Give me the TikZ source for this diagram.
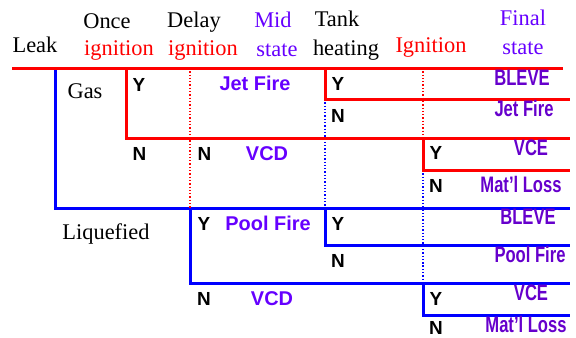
\documentclass[tikz,border=0pt]{standalone}
\usepackage{fontspec}
\newfontfamily\answerfont{Liberation Sans}
\newfontfamily\headfont{Liberation Serif}
\usetikzlibrary{positioning}
\definecolor{TreeRed}{RGB}{255,0,0}
\definecolor{TreeBlue}{RGB}{0,0,255}
\definecolor{MidViolet}{RGB}{102,0,255}
\definecolor{FinalViolet}{RGB}{102,0,204}

\begin{document}
\begin{tikzpicture}[x=1bp, y=-1bp,
    head/.style={anchor=base, inner sep=0pt, font=\headfont\fontsize{22.5}{24}\selectfont},
    answer/.style={anchor=base, inner sep=0pt, font=\answerfont\bfseries\fontsize{19}{20}\selectfont},
    midout/.style={answer, text=MidViolet, font=\answerfont\bfseries\fontsize{20}{22}\selectfont},
    finalout/.style={anchor=base, inner sep=0pt, xscale=0.74, text=FinalViolet, font=\answerfont\bfseries\fontsize{22.5}{24}\selectfont},
    branch/.style={line width=3bp},
    guide/.style={line width=1.3bp, dotted}]
    \useasboundingbox (0,0) rectangle (576,337);

    \foreach \name/\x/\y in {headL/12/68, headR/563/68, leak/55/68, gasfork/126/68, gasN/570/138,
        tankG/325/68, tankGY/570/99, ignG/423/138, ignGY/570/170, liqY/570/208,
        delayL/190/208, delayLN/570/283, tankL/325/208, tankLY/570/245, ignL/423/283, ignLY/570/315} {
      \coordinate (\name) at (\x,\y);
    }

    \draw[branch, TreeBlue] (leak) |- (liqY);
    \draw[branch, TreeBlue] (delayL) |- (delayLN);
    \draw[branch, TreeBlue] (tankL) |- (tankLY);
    \draw[branch, TreeBlue] (ignL) |- (ignLY);
    \draw[guide, TreeBlue] (tankG |- tankGY) -- (tankL);
    \draw[guide, TreeBlue] (ignG |- ignGY) -- (ignL);
    \draw[guide, TreeRed] (delayL |- headL) -- (delayL);
    \draw[guide, TreeRed] (ignG |- headL) -- (ignG);
    \draw[branch, TreeRed] (headL) -- (headR);
    \draw[branch, TreeRed] (gasfork) |- (gasN);
    \draw[branch, TreeRed] (tankG) |- (tankGY);
    \draw[branch, TreeRed] (ignG) |- (ignGY);

    \foreach \name/\x/\y/\txt/\col in {leaktxt/35/52/Leak/black, once/107/28/Once/black,
        onceign/119/55/ignition/TreeRed, delay/194/27/Delay/black, delayign/203/55/ignition/TreeRed,
        mid/273/27/Mid/MidViolet, midst/277/56/state/MidViolet, tank/337/26/Tank/black,
        heat/346/55/heating/black, ign/431/52/Ignition/TreeRed, final/523/25/Final/MidViolet,
        finalst/523/54/state/MidViolet, gas/85/98/Gas/black, liq/106/239/Liquefied/black} {
      \node[head, text=\col] (\name) at (\x,\y) {\txt};
    }

    \foreach \name/\x/\y/\txt in {gY/139/91/Y, gN/139.5/160/N, dgN/204.5/160/N, tgY/338/90/Y,
        tgN/338/122/N, igY/436/159/Y, igN/436/192/N, dlY/204/230/Y, dlN/204/305/N,
        tlY/338/230/Y, tlN/338/267/N, ilY/436/305/Y, ilN/436/334/N} {
      \node[answer] (\name) at (\x,\y) {\txt};
    }

    \foreach \name/\x/\y/\txt in {jetM/255/90/Jet Fire, vcdG/267/160/VCD, poolM/268/230/Pool Fire,
        vcdL/272/305/VCD} {
      \node[midout] (\name) at (\x,\y) {\txt};
    }

    \foreach \name/\x/\y/\txt in {bleveG/522/85/BLEVE, jetG/524/116/Jet Fire, vceG/531/155/VCE,
        lossG/521/192/Mat’l Loss, bleveL/528/224/BLEVE, poolL/530/262/Pool Fire,
        vceL/531/300/VCE, lossL/526/332/Mat’l Loss} {
      \node[finalout] (\name) at (\x,\y) {\txt};
    }
\end{tikzpicture}
\end{document}
